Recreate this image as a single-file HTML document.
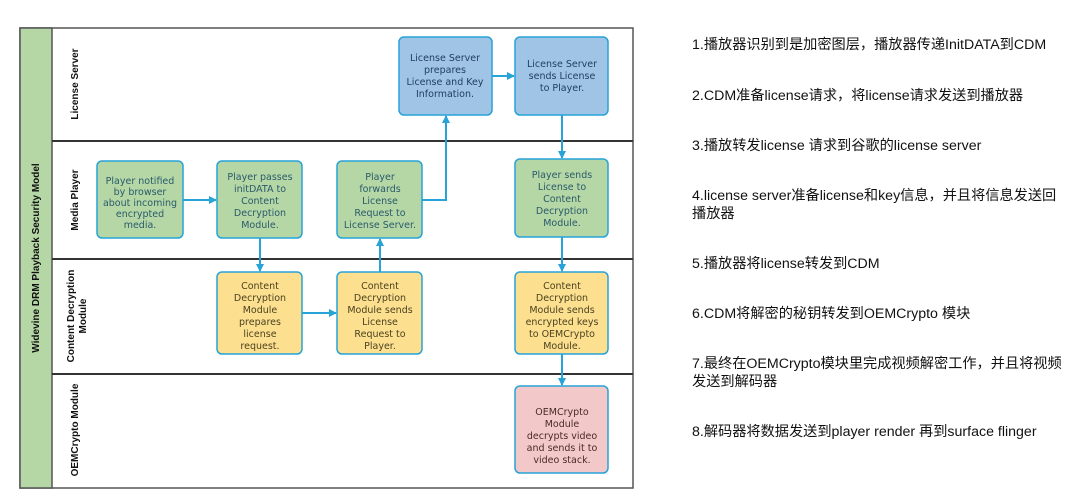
<!DOCTYPE html>
<html><head><meta charset="utf-8"><style>
body{margin:0;width:1080px;height:499px;background:#fff;position:relative;overflow:hidden;font-family:"Liberation Sans","Noto Sans CJK SC",sans-serif}
.t{position:absolute;left:692px;font-size:14.2px;color:#111;line-height:18px;width:372px}
svg{position:absolute;left:0;top:0}
.bx{font-family:"DejaVu Sans","Liberation Sans",sans-serif;font-size:9.5px;text-anchor:middle}
</style></head><body>
<svg width="1080" height="499">
<defs><marker id="a" markerWidth="8" markerHeight="8" refX="7" refY="4" orient="auto" markerUnits="userSpaceOnUse"><path d="M0,0 L8,4 L0,8z" fill="#27a3d8"/></marker></defs>
<rect x="20" y="28" width="613" height="460" fill="#fff" stroke="#555" stroke-width="1.5"/>
<rect x="20" y="28" width="32" height="460" fill="#b5d7a6" stroke="#555" stroke-width="1.5"/>
<line x1="52" y1="141" x2="633" y2="141" stroke="#333" stroke-width="2"/>
<line x1="52" y1="259" x2="633" y2="259" stroke="#333" stroke-width="2"/>
<line x1="52" y1="374" x2="633" y2="374" stroke="#333" stroke-width="2"/>
<g font-family="Liberation Sans,sans-serif" font-weight="bold" font-size="10" fill="#111" text-anchor="middle">
<text transform="translate(39,258) rotate(-90)">Widevine DRM Playback Security Model</text>
<text transform="translate(78,84) rotate(-90)">License Server</text>
<text transform="translate(78,200) rotate(-90)">Media Player</text>
<text transform="translate(74,316) rotate(-90)">Content Decryption</text>
<text transform="translate(86,316) rotate(-90)">Module</text>
<text transform="translate(78,430) rotate(-90)">OEMCrypto Module</text>
</g>
<g stroke="#27a3d8" stroke-width="2" fill="none">
<line x1="183" y1="200" x2="216" y2="200" marker-end="url(#a)"/>
<line x1="260" y1="238" x2="260" y2="271" marker-end="url(#a)"/>
<line x1="302" y1="313" x2="336" y2="313" marker-end="url(#a)"/>
<line x1="380" y1="272" x2="380" y2="239" marker-end="url(#a)"/>
<polyline points="422,200 446,200 446,116" marker-end="url(#a)"/>
<line x1="492" y1="76" x2="514" y2="76" marker-end="url(#a)"/>
<line x1="562" y1="115" x2="562" y2="158" marker-end="url(#a)"/>
<line x1="562" y1="237" x2="562" y2="271" marker-end="url(#a)"/>
<line x1="562" y1="354" x2="562" y2="385" marker-end="url(#a)"/>
</g>
<g stroke="#27a3d8" stroke-width="1.5">
<rect x="97" y="161" width="86" height="77" rx="5" fill="#b5d7a6"/>
<rect x="217" y="161" width="85" height="77" rx="5" fill="#b5d7a6"/>
<rect x="337" y="161" width="85" height="77" rx="5" fill="#b5d7a6"/>
<rect x="515" y="159" width="93" height="78" rx="5" fill="#b5d7a6"/>
<rect x="217" y="272" width="85" height="82" rx="5" fill="#fde08f"/>
<rect x="337" y="272" width="85" height="82" rx="5" fill="#fde08f"/>
<rect x="515" y="272" width="93" height="82" rx="5" fill="#fde08f"/>
<rect x="399" y="37" width="93" height="78" rx="5" fill="#a0c4e6"/>
<rect x="515" y="37" width="93" height="78" rx="5" fill="#a0c4e6"/>
<rect x="515" y="386" width="93" height="87" rx="5" fill="#f3c8c8"/>
</g>
<g class="bx" fill="#2a5a6a">
<text x="140" y="184">Player notified</text><text x="140" y="195">by browser</text><text x="140" y="206">about incoming</text><text x="140" y="217">encrypted</text><text x="140" y="228">media.</text>
<text x="260" y="180">Player passes</text><text x="260" y="192">initDATA to</text><text x="260" y="204">Content</text><text x="260" y="216">Decryption</text><text x="260" y="228">Module.</text>
<text x="380" y="180">Player</text><text x="380" y="192">forwards</text><text x="380" y="204">License</text><text x="380" y="216">Request to</text><text x="380" y="228">License Server.</text>
<text x="562" y="178">Player sends</text><text x="562" y="190">License to</text><text x="562" y="202">Content</text><text x="562" y="214">Decryption</text><text x="562" y="226">Module.</text>
</g>
<g class="bx" fill="#4a4220">
<text x="260" y="289">Content</text><text x="260" y="301">Decryption</text><text x="260" y="313">Module</text><text x="260" y="325">prepares</text><text x="260" y="337">license</text><text x="260" y="349">request.</text>
<text x="380" y="289">Content</text><text x="380" y="301">Decryption</text><text x="380" y="313">Module sends</text><text x="380" y="325">License</text><text x="380" y="337">Request to</text><text x="380" y="349">Player.</text>
<text x="562" y="289">Content</text><text x="562" y="301">Decryption</text><text x="562" y="313">Module sends</text><text x="562" y="325">encrypted keys</text><text x="562" y="337">to OEMCrypto</text><text x="562" y="349">Module.</text>
</g>
<g class="bx" fill="#1f3f60">
<text x="445" y="61">License Server</text><text x="445" y="73">prepares</text><text x="445" y="85">License and Key</text><text x="445" y="97">Information.</text>
<text x="562" y="67">License Server</text><text x="562" y="79">sends License</text><text x="562" y="91">to Player.</text>
</g>
<g class="bx" fill="#4a2a2a">
<text x="562" y="415">OEMCrypto</text><text x="562" y="427">Module</text><text x="562" y="439">decrypts video</text><text x="562" y="451">and sends it to</text><text x="562" y="463">video stack.</text>
</g>
</svg>
<div class="t" style="top:36px">1.播放器识别到是加密图层，播放器传递InitDATA到CDM</div>
<div class="t" style="top:87px">2.CDM准备license请求，将license请求发送到播放器</div>
<div class="t" style="top:137px">3.播放转发license 请求到谷歌的license server</div>
<div class="t" style="top:187px">4.license server准备license和key信息，并且将信息发送回播放器</div>
<div class="t" style="top:255px">5.播放器将license转发到CDM</div>
<div class="t" style="top:305px">6.CDM将解密的秘钥转发到OEMCrypto 模块</div>
<div class="t" style="top:355px">7.最终在OEMCrypto模块里完成视频解密工作，并且将视频发送到解码器</div>
<div class="t" style="top:423px">8.解码器将数据发送到player render 再到surface flinger</div>
</body></html>
